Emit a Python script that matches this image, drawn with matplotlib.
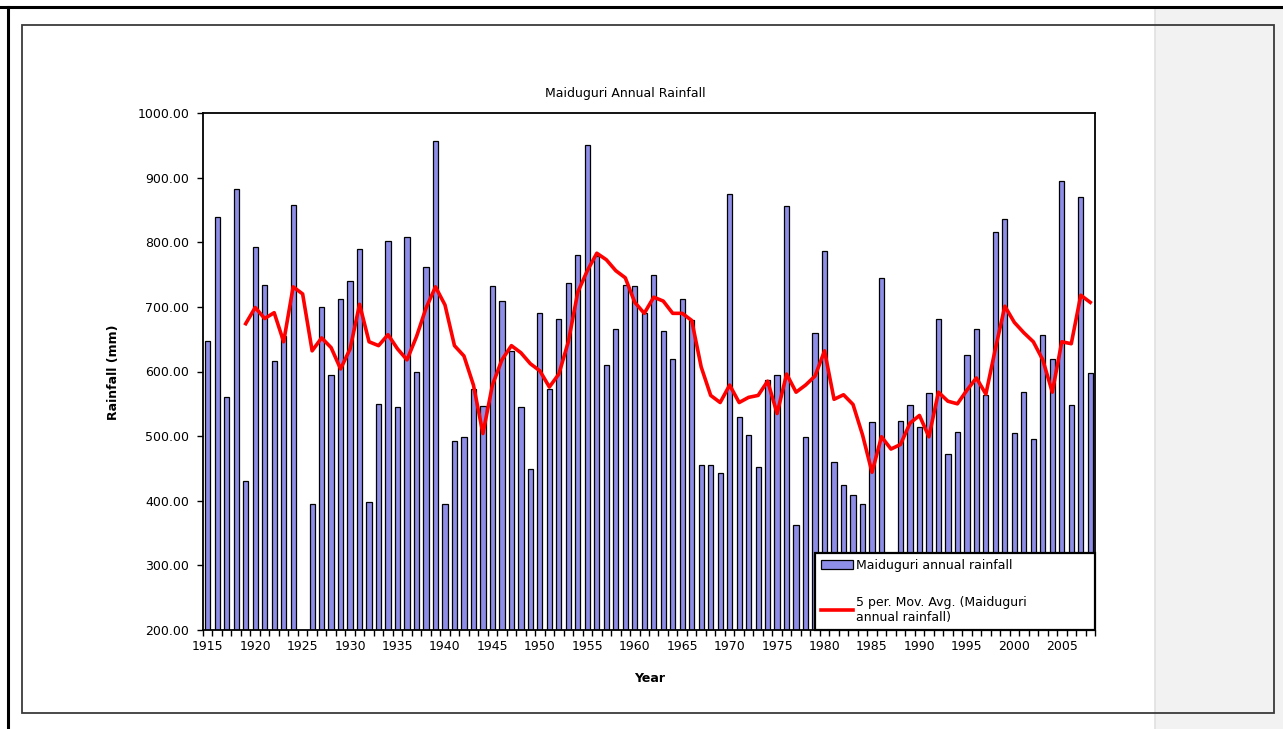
import numpy as np
import matplotlib.pyplot as plt
from matplotlib.patches import Rectangle
from matplotlib.lines import Line2D

# Annual rainfall (mm), 1915-2008; 1925 has no value
years = list(range(1915, 2009))
rainfall = [647, 839, 561, 882, 430, 792, 734, 616, 655, 858,
            np.nan, 395, 700, 594, 712, 740, 790, 398, 550, 802,
            545, 808, 600, 762, 957, 395, 492, 498, 573, 547,
            733, 709, 632, 545, 449, 691, 573, 681, 737, 780,
            951, 778, 610, 665, 734, 733, 690, 750, 662, 619,
            712, 679, 455, 455, 443, 874, 529, 502, 452, 587,
            594, 856, 362, 498, 660, 786, 460, 424, 409, 395,
            522, 744, 280, 523, 548, 514, 567, 681, 473, 507,
            625, 666, 564, 816, 836, 505, 569, 495, 656, 619,
            895, 548, 870, 598]

# 5 period moving average as drawn (1919-2008)
ma_years = list(range(1919, 2009))
ma_values = [674, 699, 682, 691, 646, 731, 720, 632, 652, 637,
             604, 635, 704, 646, 640, 657, 635, 618, 654, 698,
             731, 703, 640, 624, 579, 504, 579, 618, 640, 629,
             612, 601, 576, 596, 646, 723, 756, 783, 773, 756,
             745, 707, 690, 715, 709, 690, 690, 679, 607, 563,
             552, 579, 552, 560, 563, 585, 535, 596, 568, 579,
             593, 632, 557, 564, 549, 502, 444, 499, 480, 487,
             520, 532, 499, 568, 554, 550, 571, 590, 565, 635,
             701, 676, 660, 646, 618, 568, 646, 643, 718, 707]

W, H = 1283, 729
fig = plt.figure(figsize=(W / 100, H / 100), dpi=100)

def fx(px):
    return px / W

def fy(py):
    return 1 - py / H

# page decorations (grey margin, sheet borders, chart frame)
fig.add_artist(Rectangle((fx(1155), 0), 1 - fx(1155), fy(7), transform=fig.transFigure,
                         facecolor='#f2f2f2', edgecolor='none', zorder=0))
fig.add_artist(Line2D([fx(1155), fx(1155)], [0, fy(7)], transform=fig.transFigure,
                      color='#e0e0e0', lw=1.2, zorder=0))
fig.add_artist(Line2D([0, 1], [fy(7), fy(7)], transform=fig.transFigure, color='black', lw=2.2))
fig.add_artist(Line2D([fx(8), fx(8)], [0, fy(7)], transform=fig.transFigure, color='black', lw=2.2))
fig.add_artist(Rectangle((fx(22), fy(713)), fx(1274) - fx(22), fy(25) - fy(713),
                         transform=fig.transFigure, facecolor='none', edgecolor='#3a3a3a', lw=1.3))

ax = fig.add_axes([fx(203), fy(630), fx(1095) - fx(203), fy(113) - fy(630)])
bars = ax.bar(years, rainfall, width=0.55, color='#8e8ee8', edgecolor='black', linewidth=0.9,
              label='Maiduguri annual rainfall')
line, = ax.plot(ma_years, ma_values, color='#ff0000', lw=2.6,
                label='5 per. Mov. Avg. (Maiduguri\nannual rainfall)')

ax.set_xlim(1914.5, 2008.5)
ax.set_ylim(200, 1000)
ax.set_yticks(range(200, 1001, 100))
ax.set_yticklabels(['%.2f' % v for v in range(200, 1001, 100)], fontsize=9)
ax.set_xticks(range(1915, 2009, 5))
ax.set_xticklabels([str(y) for y in range(1915, 2009, 5)], fontsize=9)
ax.set_xticks(np.arange(1914.5, 2009, 1), minor=True)
ax.tick_params(axis='x', which='major', length=0, pad=7)
ax.tick_params(axis='x', which='minor', length=4, width=1, direction='out')
ax.tick_params(axis='y', length=4, width=1, direction='out', pad=6)
for s in ax.spines.values():
    s.set_linewidth(1.3)

fig.text(fx(625), fy(93), 'Maiduguri Annual Rainfall', fontsize=9, ha='center', va='center')
fig.text(fx(113), fy(372), 'Rainfall (mm)', fontsize=9, fontweight='bold',
         rotation=90, ha='center', va='center')
fig.text(fx(650), fy(678), 'Year', fontsize=9, fontweight='bold', ha='center', va='center')

lx = (815 - 203) / 892
leg = ax.legend([bars, line], [bars.get_label(), line.get_label()],
                loc='lower left', bbox_to_anchor=(lx, 0, 1 - lx, 0.15), mode='expand',
                borderaxespad=0, fontsize=9, fancybox=False, framealpha=1, edgecolor='black',
                handlelength=2.5, handletextpad=0.25, labelspacing=1.9, borderpad=0.5)
leg.get_frame().set_linewidth(1.6)

plt.savefig('out.png', dpi=100)
